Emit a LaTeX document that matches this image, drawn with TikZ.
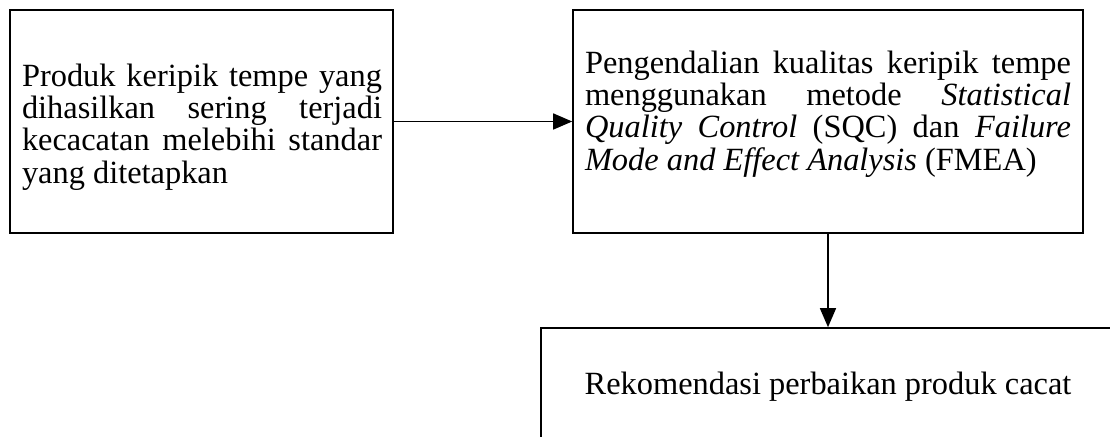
\documentclass[tikz,border=0pt]{standalone}
\usepackage{fontspec}
\setmainfont{Liberation Serif}
\usetikzlibrary{arrows.meta}

\begin{document}
\begin{tikzpicture}[x=0.5pt,y=-0.5pt,
    kotak/.style={draw,line width=0.8pt,inner sep=0pt},
    isi/.style={inner sep=0pt,align=justify,font=\fontsize{16.2}{16.2}\selectfont},
    panah/.style={line width=0.75pt,-{Triangle[length=9.5pt,width=8pt]}}]

      \useasboundingbox (0,0) rectangle (1110,437);
      \clip (0,0) rectangle (1110,437);

      % masalah
      \node [kotak,minimum width=191.5pt,minimum height=111.5pt] (produk) at (201.5,121.5) {};
      \node [isi,text width=180pt] (produktxt) at (202,127) {\tolerance=10000
        Produk keripik tempe yang\linebreak dihasilkan sering terjadi\linebreak
        kecacatan melebihi standar\linebreak yang ditetapkan};

      % metode
      \node [kotak,minimum width=255pt,minimum height=111.5pt] (sqc) at (828,121.5) {};
      \node [isi,text width=243pt] (sqctxt) at (828,114) {\tolerance=10000
        Pengendalian kualitas keripik tempe\linebreak menggunakan metode
        \textit{Statistical}\linebreak \textit{Quality Control} (SQC) dan
        \textit{Failure}\linebreak \textit{Mode and Effect Analysis} (FMEA)};

      % hasil
      \node [kotak,minimum width=287pt,minimum height=96pt] (rekom) at (828,424) {};
      \node [isi,anchor=base] (rekomtxt) at (828,395) {Rekomendasi perbaikan produk cacat};

      \draw [panah] (produk.east) -- (sqc.west);
      \draw [panah] (sqc.south) -- (rekom.north);

\end{tikzpicture}
\end{document}
